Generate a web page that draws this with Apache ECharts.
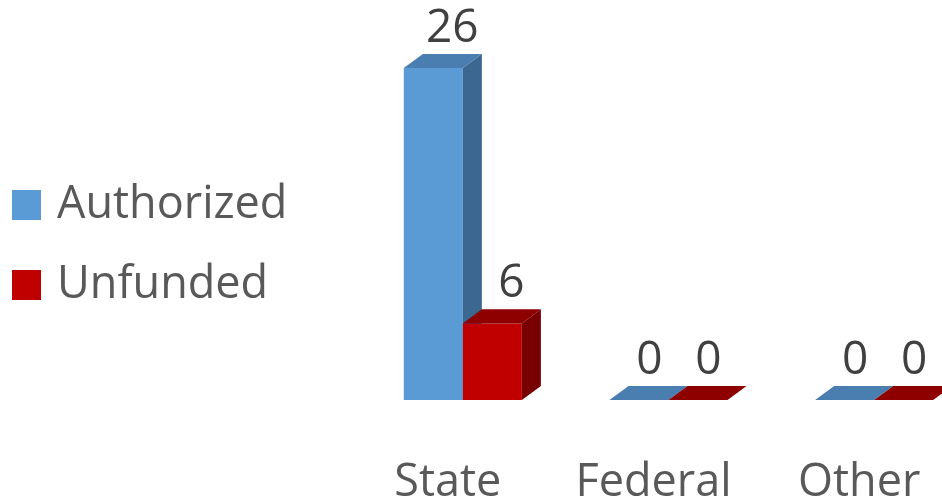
<!DOCTYPE html>
<html>
<head>
<meta charset="utf-8">
<script src="https://cdn.jsdelivr.net/npm/echarts@6/dist/echarts.min.js"></script>
<style>
html,body{margin:0;padding:0;background:#fff;}
#chart{width:942px;height:504px;}
</style>
</head>
<body>
<div id="chart"></div>
<script>
const categories = ['State', 'Federal', 'Other'];
const seriesNames = ['Authorized', 'Unfunded'];
const authorized = [26, 0, 0];
const unfunded = [6, 0, 0];

const FONT = '"Open Sans", "Noto Sans", sans-serif';
const palettes = [
  { front: '#5B9BD5', top: '#4A7DB0', side: '#3B6791' },
  { front: '#C00000', top: '#8E0000', side: '#780000' }
];

function makeRender(sIdx) {
  const pal = palettes[sIdx];
  return function (params, api) {
    const cat = api.value(0);
    const val = api.value(1);
    const top = api.coord([cat, val]);
    const base = api.coord([cat, 0]);
    const band = api.size([1, 0])[0];
    const w = band * 0.287;
    const dx = band * 0.0925;
    const dy = -dx * 0.74;
    const x0 = sIdx === 0 ? top[0] - w : top[0];
    const x1 = x0 + w;
    const yT = top[1];
    const yB = base[1];
    const children = [];
    if (yB - yT > 0.5) {
      children.push({
        type: 'rect',
        shape: { x: x0, y: yT, width: w, height: yB - yT },
        style: { fill: pal.front }
      });
      children.push({
        type: 'polygon',
        shape: { points: [[x1, yT], [x1 + dx, yT + dy], [x1 + dx, yB + dy], [x1, yB]] },
        style: { fill: pal.side }
      });
    }
    children.push({
      type: 'polygon',
      shape: { points: [[x0, yT], [x1, yT], [x1 + dx, yT + dy], [x0 + dx, yT + dy]] },
      style: { fill: pal.top }
    });
    const lx = x0 + w / 2 + (val > 0 ? dx : dx * 0.55);
    children.push({
      type: 'text',
      style: {
        text: String(val),
        x: lx,
        y: yT + dy - 25,
        align: 'center',
        verticalAlign: 'middle',
        fill: '#404040',
        font: '46px ' + FONT
      }
    });
    return { type: 'group', children: children };
  };
}

const chart = echarts.init(document.getElementById('chart'), null, { renderer: 'canvas' });
chart.setOption({
  animation: false,
  backgroundColor: '#ffffff',
  grid: { left: 360, right: -35, top: 17, bottom: 104, containLabel: false, outerBoundsMode: 'none' },
  legend: {
    orient: 'vertical',
    left: 12,
    top: 180,
    padding: 0,
    itemWidth: 29,
    itemHeight: 30,
    itemGap: 30,
    icon: 'rect',
    data: seriesNames,
    textStyle: {
      fontFamily: FONT,
      fontSize: 45,
      color: '#595959',
      lineHeight: 50,
      padding: [0, 0, 0, 11]
    }
  },
  xAxis: {
    type: 'category',
    data: categories,
    axisLine: { show: false },
    axisTick: { show: false },
    splitLine: { show: false },
    axisLabel: {
      interval: 0,
      fontFamily: FONT,
      fontSize: 45,
      color: '#595959',
      margin: 61,
      padding: [0, 30, 0, 0]
    }
  },
  yAxis: {
    type: 'value',
    min: 0,
    max: 30,
    show: false
  },
  series: [
    {
      name: seriesNames[0],
      type: 'custom',
      renderItem: makeRender(0),
      clip: false,
      itemStyle: { color: palettes[0].front },
      encode: { x: 0, y: 1 },
      data: authorized.map((v, i) => [i, v])
    },
    {
      name: seriesNames[1],
      type: 'custom',
      renderItem: makeRender(1),
      clip: false,
      itemStyle: { color: palettes[1].front },
      encode: { x: 0, y: 1 },
      data: unfunded.map((v, i) => [i, v])
    }
  ]
});
</script>
</body>
</html>
